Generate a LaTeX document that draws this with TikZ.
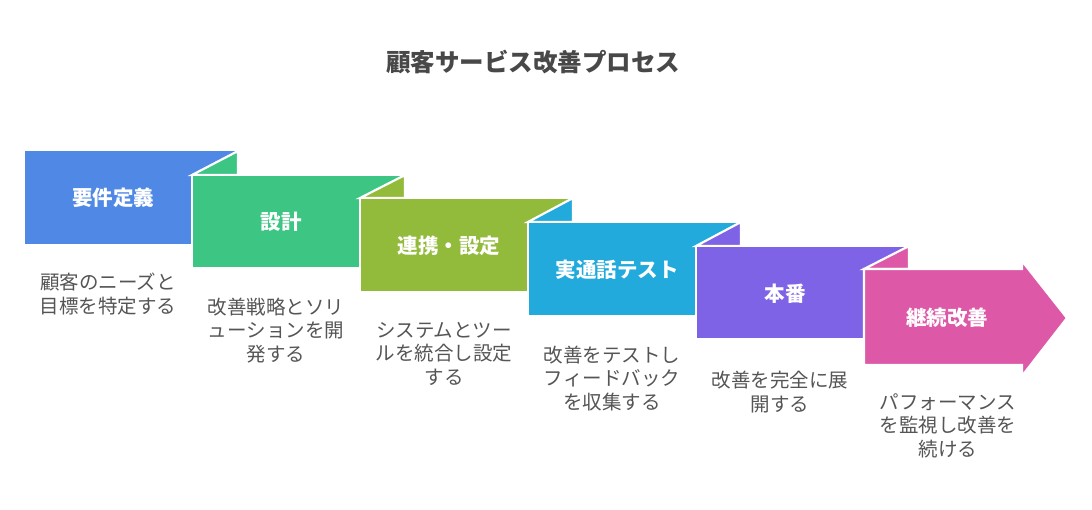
\documentclass[tikz,border=0pt]{standalone}
\usepackage{fontspec}
\setmainfont{Noto Sans CJK JP}
\definecolor{cA}{HTML}{4F89E5}
\definecolor{cB}{HTML}{3CC583}
\definecolor{cC}{HTML}{93BB3B}
\definecolor{cD}{HTML}{21AADB}
\definecolor{cE}{HTML}{7F63E6}
\definecolor{cF}{HTML}{DD58A7}
\definecolor{titlecol}{HTML}{484848}
\definecolor{desccol}{HTML}{555555}
\tikzset{
  panel/.style={draw=white, line width=2.2bp, line join=miter},
  boxlabel/.style={text=white, font=\fontsize{20.5bp}{24bp}\selectfont\bfseries, inner sep=0pt},
  desc/.style={text=desccol, font=\fontsize{19.5bp}{23.5bp}\selectfont, align=center, inner sep=0pt},
  titletext/.style={text=titlecol, font=\fontsize{24.5bp}{28bp}\selectfont\bfseries, inner sep=0pt}
}
\begin{document}
\begin{tikzpicture}[x=1bp,y=-1bp]
\useasboundingbox (0,0) rectangle (1092,510);
\fill[white] (0,0) rectangle (1092,510);
\node[titletext] (title) at (533,62) {顧客サービス改善プロセス};
% box 1
\fill[cA] (25,151) rectangle (238,244);
% box 2
\filldraw[panel, fill=cB] (192,175) -- (238,151) -- (238,175) -- cycle;
\filldraw[panel, fill=cB] (192,175) rectangle (405,268);
% box 3
\filldraw[panel, fill=cC] (360,198) -- (405,175) -- (405,198) -- cycle;
\filldraw[panel, fill=cC] (360,198) rectangle (573,292);
% box 4
\filldraw[panel, fill=cD] (528,222) -- (573,198) -- (573,222) -- cycle;
\filldraw[panel, fill=cD] (528,222) rectangle (741,316);
% box 5
\filldraw[panel, fill=cE] (696,246) -- (741,222) -- (741,246) -- cycle;
\filldraw[panel, fill=cE] (696,246) rectangle (909,339);
% box 6 (arrow)
\filldraw[panel, fill=cF] (864,269) -- (909,246) -- (909,269) -- cycle;
\filldraw[panel, fill=cF] (864,269) -- (1022,269) -- (1022,261) -- (1067,318) -- (1022,376) -- (1022,365) -- (864,365) -- cycle;
% labels
\node[boxlabel] (l1) at (113,198) {要件定義};
\node[boxlabel] (l2) at (281,222) {設計};
\node[boxlabel] (l3) at (449,246) {連携・設定};
\node[boxlabel] (l4) at (617,270) {実通話テスト};
\node[boxlabel] (l5) at (785,294) {本番};
\node[boxlabel] (l6) at (947,318) {継続改善};
% descriptions
\node[desc] (d1) at (108,294) {顧客のニーズと\\目標を特定する};
\node[desc] (d2) at (276,330.5) {改善戦略とソリ\\ューションを開\\発する};
\node[desc] (d3) at (444,353.5) {システムとツー\\ルを統合し設定\\する};
\node[desc] (d4) at (612,378.5) {改善をテストし\\フィードバック\\を収集する};
\node[desc] (d5) at (780,392) {改善を完全に展\\開する};
\node[desc] (d6) at (948,425.5) {パフォーマンス\\を監視し改善を\\続ける};
\end{tikzpicture}
\end{document}
